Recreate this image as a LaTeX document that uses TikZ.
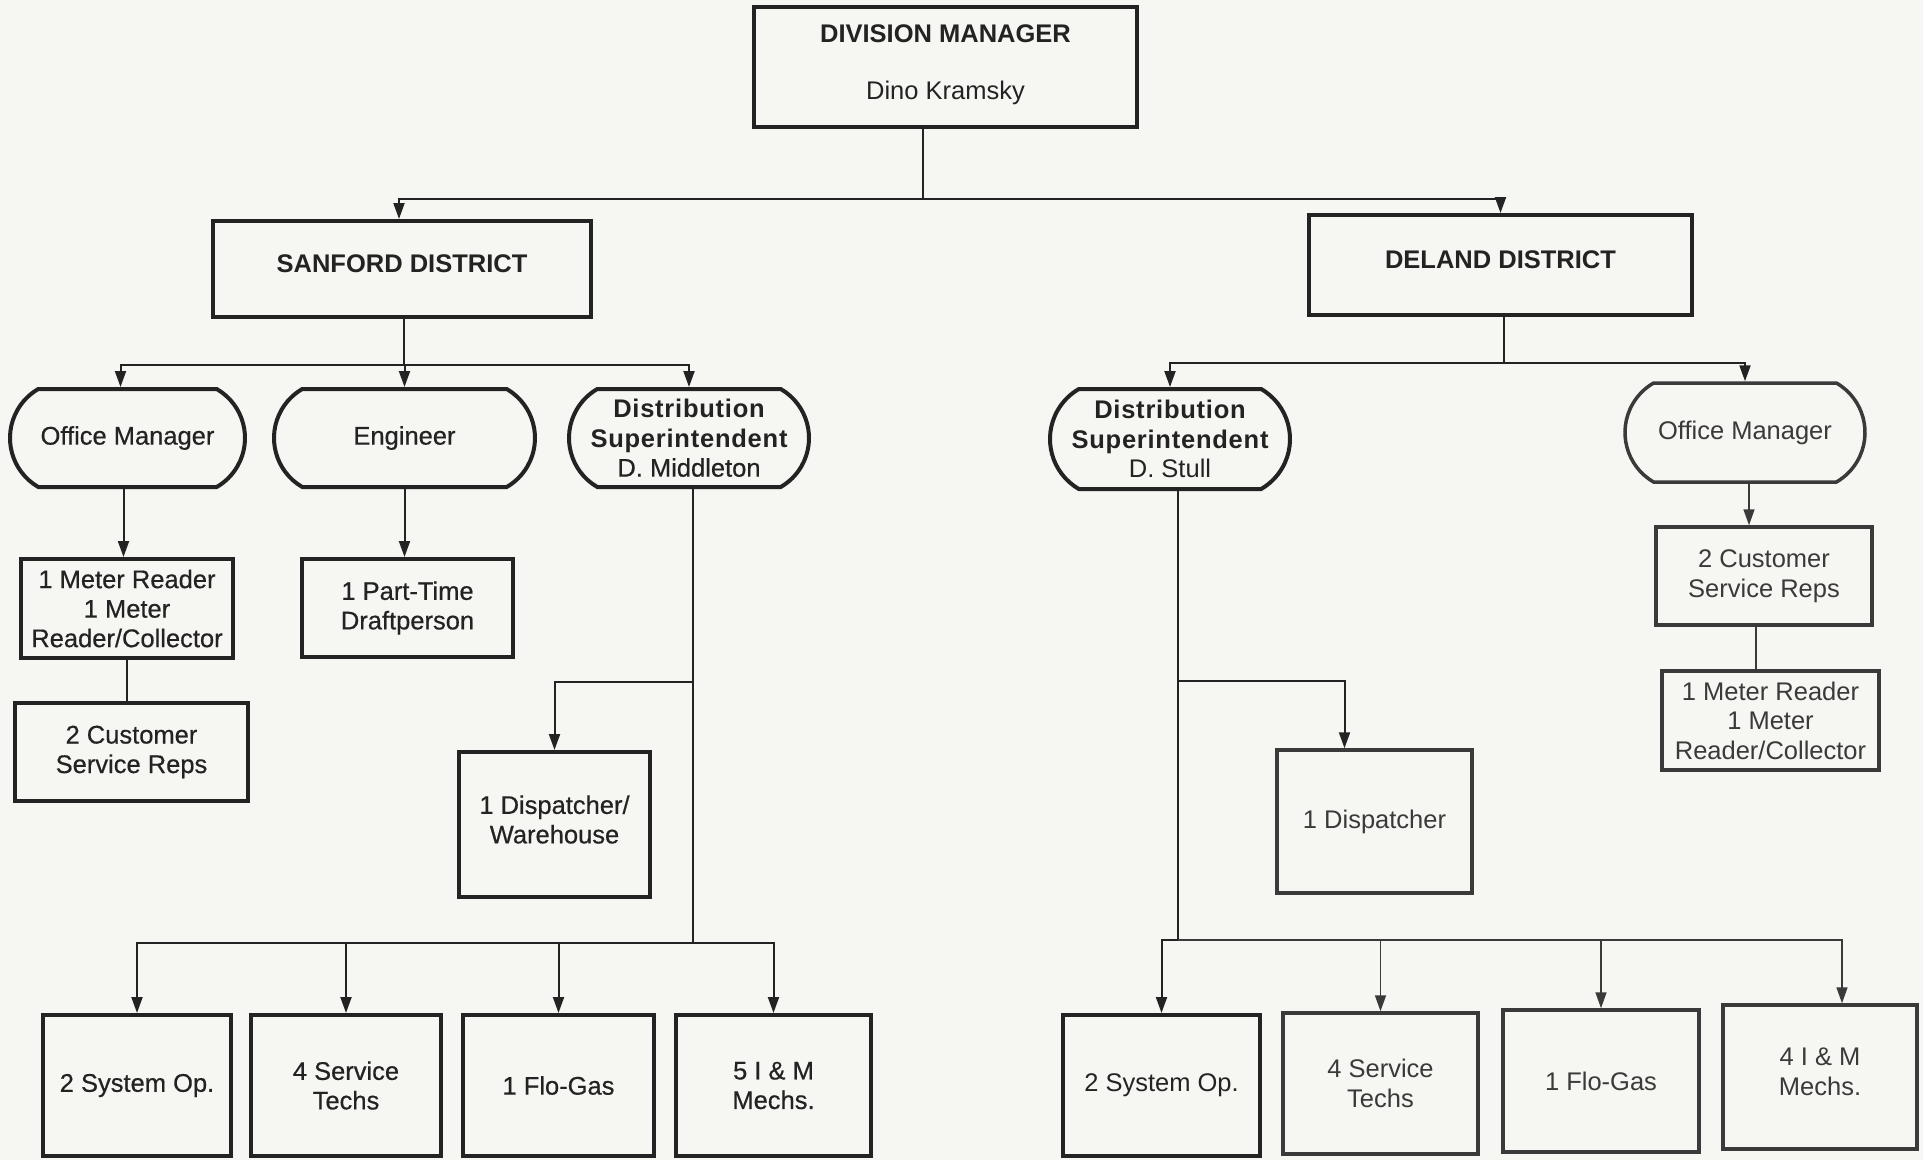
\documentclass[tikz,border=0pt]{standalone}
\usepackage{fontspec}
\setmainfont{Liberation Sans}
\newfontface\spbold{Liberation Sans Bold}[LetterSpace=3]
\newfontface\heavy{Liberation Sans}[FakeBold=0.5]
\usetikzlibrary{shapes.misc,arrows.meta}
\definecolor{ink}{HTML}{232323}
\definecolor{inkl}{HTML}{3A3A3A}
\definecolor{paper}{HTML}{F6F6F2}
\newcommand{\up}[2]{\raisebox{#1}[\height][\depth]{#2}}
\begin{document}
\begin{tikzpicture}[x=1pt,y=-1pt,
  base/.style={font=\fontsize{25.5}{29.5}\selectfont, text=ink, align=center, inner sep=0pt},
  sqbox/.style={base, draw=ink, line width=4pt, rectangle},
  lbox/.style={sqbox, font=\fontsize{25.5}{29.5}\heavy},
  rbox/.style={sqbox, draw=inkl, text=inkl, line width=3.5pt},
  term/.style={base, draw=ink, line width=4pt, rounded rectangle, rounded rectangle arc length=120},
  lterm/.style={term, font=\fontsize{25.5}{29.5}\heavy},
  rterm/.style={term, draw=inkl, text=inkl, line width=3.5pt},
  conn/.style={draw=ink, line width=2pt},
  rconn/.style={draw=inkl, line width=1.6pt},
  arr/.style={conn, -{Triangle[length=16pt,width=11pt]}},
  rarr/.style={rconn, -{Triangle[length=16pt,width=11pt]}},
]
\fill[paper] (0,0) rectangle (1923,1160);
\useasboundingbox (0,0) rectangle (1923,1160);

% top
\node[sqbox, line width=3.2pt, minimum width=383pt, minimum height=120pt] (dm) at (945.5,67)
  {\up{2.5pt}{\textbf{DIVISION MANAGER}}\\[28pt]\up{2.5pt}{Dino Kramsky}};
\node[sqbox, minimum width=378pt, minimum height=96pt] (sanford) at (402,269) {\up{5pt}{\textbf{SANFORD DISTRICT}}};
\node[sqbox, minimum width=383pt, minimum height=100pt] (deland) at (1500.5,265) {\up{5pt}{\textbf{DELAND DISTRICT}}};

% Sanford second level
\node[lterm, minimum width=235pt, minimum height=98pt] (om1) at (127.5,438) {Office Manager};
\node[lterm, minimum width=261pt, minimum height=98pt] (eng) at (404.5,438) {Engineer};
\node[term, minimum width=240pt, minimum height=98pt] (ds1) at (689,438)
  {{\spbold Distribution}\\{\spbold Superintendent}\\{\heavy D. Middleton}};

% Deland second level
\node[term, minimum width=240pt, minimum height=100pt] (ds2) at (1170,439)
  {{\spbold Distribution}\\{\spbold Superintendent}\\D. Stull};
\node[rterm, minimum width=240pt, minimum height=99pt] (om2) at (1745,432.5) {Office Manager};

% Sanford third level
\node[lbox, minimum width=212pt, minimum height=99pt] (mr1) at (127,608.5) {1 Meter Reader\\1 Meter\\Reader/Collector};
\node[lbox, minimum width=211pt, minimum height=98pt] (pt) at (407.5,608) {1 Part-Time\\Draftperson};
\node[lbox, minimum width=233pt, minimum height=98pt] (csr1) at (131.5,752) {2 Customer\\Service Reps};
\node[lbox, minimum width=191pt, minimum height=145pt] (disp1) at (554.5,824.5) {\up{5pt}{1 Dispatcher/}\\\up{5pt}{Warehouse}};

% Deland third level
\node[rbox, minimum width=216pt, minimum height=98pt] (csr2) at (1764,576) {2 Customer\\Service Reps};
\node[rbox, minimum width=217pt, minimum height=99pt] (mr2) at (1770.5,720.5) {1 Meter Reader\\1 Meter\\Reader/Collector};
\node[rbox, minimum width=195pt, minimum height=143pt] (disp2) at (1374.5,821.5) {1 Dispatcher};

% bottom left
\node[lbox, minimum width=188pt, minimum height=141pt] (b1) at (137,1085.5) {2 System Op.};
\node[lbox, minimum width=190pt, minimum height=141pt] (b2) at (346,1085.5) {4 Service\\Techs};
\node[lbox, minimum width=191pt, minimum height=141pt] (b3) at (558.5,1085.5) {1 Flo-Gas};
\node[lbox, minimum width=195pt, minimum height=141pt] (b4) at (773.5,1085.5) {5 I \& M\\Mechs.};

% bottom right
\node[sqbox, minimum width=197pt, minimum height=141pt] (r1) at (1161.5,1085.5) {2 System Op.};
\node[rbox, minimum width=195pt, minimum height=141pt] (r2) at (1380.5,1083.5) {4 Service\\Techs};
\node[rbox, minimum width=196pt, minimum height=142pt] (r3) at (1601,1081) {1 Flo-Gas};
\node[rbox, minimum width=194pt, minimum height=144pt] (r4) at (1820,1077) {\up{5pt}{4 I \& M}\\\up{5pt}{Mechs.}};

% connectors: top
\coordinate (j0) at (923,199);
\draw[conn] (dm.south -| j0) -- (j0);
\draw[arr] (j0) -| ([xshift=-3pt]sanford.north);
\draw[arr] (j0) -| (deland.north);

% Sanford bus
\coordinate (j1) at (404,365);
\draw[conn] (sanford.south -| j1) -- (j1);
\draw[arr] (j1) -| ([xshift=-7pt]om1.north);
\draw[arr] (j1) -| (ds1.north);
\draw[arr] (eng.north |- j1) -- (eng.north);

% Deland bus
\coordinate (j2) at (1504,363);
\draw[conn] (deland.south -| j2) -- (j2);
\draw[arr] (j2) -| (ds2.north);
\draw[arr] (j2) -| (om2.north);

% Sanford under
\coordinate (k0) at ([xshift=-4pt]om1.south);
\draw[arr] (k0) -- (k0 |- mr1.north);
\draw[conn] (mr1.south) -- (mr1.south |- csr1.north);
\draw[arr] (eng.south) -- (eng.south |- pt.north);

\coordinate (j3) at (693,682);
\coordinate (j4) at (693,943);
\draw[conn] (ds1.south -| j4) -- (j4);
\draw[arr] (j3) -| (disp1.north);
\draw[arr] (j4) -| (b1.north);
\draw[arr] (j4) -| (b4.north);
\draw[arr] (b2.north |- j4) -- (b2.north);
\draw[arr] (b3.north |- j4) -- (b3.north);

% Deland under
\coordinate (j5) at (1178,681);
\coordinate (j6) at (1178,940);
\draw[conn] (ds2.south -| j6) -- (j6);
\draw[arr] (j5) -| ([xshift=-30pt]disp2.north);
\draw[arr] (j6) -| (r1.north);
\draw[rarr] (j6) -| ([xshift=22pt]r4.north);
\draw[rarr] (r2.north |- j6) -- (r2.north);
\draw[rarr] (r3.north |- j6) -- (r3.north);

\coordinate (k1) at ([xshift=4pt]om2.south);
\draw[rarr] (k1) -- (k1 |- csr2.north);
\coordinate (k2) at ([xshift=-8pt]csr2.south);
\draw[rconn] (k2) -- (k2 |- mr2.north);
\end{tikzpicture}
\end{document}
